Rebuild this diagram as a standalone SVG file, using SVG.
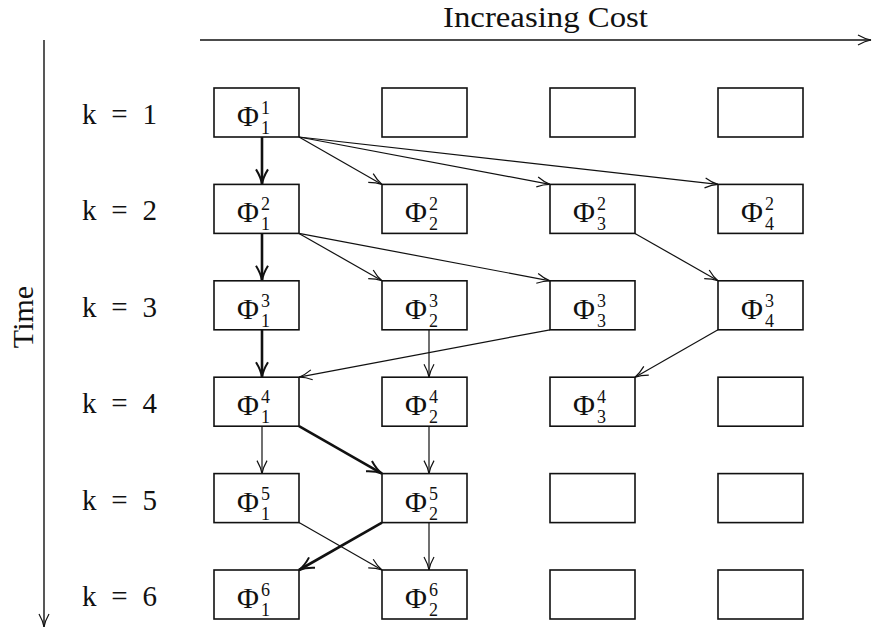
<svg xmlns="http://www.w3.org/2000/svg" width="873" height="630" viewBox="0 0 873 630">
<style>
  .box { fill: #fff; stroke: #111; stroke-width: 1.6; }
  .lbl { font-family: "Liberation Serif", "DejaVu Serif", serif; fill: #111; }
  .phi { font-size: 30px; }
  .idx { font-size: 18px; }
  .k { font-size: 29px; }
  .thin { fill: none; stroke: #111; stroke-width: 1.2; marker-end: url(#h1); }
  .bold { fill: none; stroke: #111; stroke-width: 2.6; marker-end: url(#h2); }
  .axis { fill: none; stroke: #111; stroke-width: 1.4; marker-end: url(#h1); }
</style>
<defs>
  <marker id="h1" viewBox="0 0 15 12" refX="14" refY="6" markerWidth="15" markerHeight="12" markerUnits="userSpaceOnUse" orient="auto">
    <path d="M1,1 Q8,5 14,6 Q8,7 1,11" fill="none" stroke="#111" stroke-width="1.2"/>
  </marker>
  <marker id="h2" viewBox="0 0 17 14" refX="16" refY="7" markerWidth="17" markerHeight="14" markerUnits="userSpaceOnUse" orient="auto">
    <path d="M1,1 Q9,6 16,7 Q9,8 1,13" fill="none" stroke="#111" stroke-width="2"/>
  </marker>
</defs>

<g id="axes">
  <line class="axis" x1="200" y1="40" x2="871" y2="40"/>
  <text class="lbl" x="443" y="27" font-size="30" textLength="205" lengthAdjust="spacingAndGlyphs">Increasing Cost</text>
  <line class="axis" x1="44" y1="40" x2="44" y2="627"/>
  <text class="lbl" transform="translate(33,317) rotate(-90)" text-anchor="middle" font-size="30">Time</text>
</g>

<g id="row-labels">
  <text class="lbl k" x="82" y="124" textLength="75" lengthAdjust="spacing" xml:space="preserve">k = 1</text>
  <text class="lbl k" x="82" y="220.4" textLength="75" lengthAdjust="spacing" xml:space="preserve">k = 2</text>
  <text class="lbl k" x="82" y="316.8" textLength="75" lengthAdjust="spacing" xml:space="preserve">k = 3</text>
  <text class="lbl k" x="82" y="413.2" textLength="75" lengthAdjust="spacing" xml:space="preserve">k = 4</text>
  <text class="lbl k" x="82" y="509.6" textLength="75" lengthAdjust="spacing" xml:space="preserve">k = 5</text>
  <text class="lbl k" x="82" y="606" textLength="75" lengthAdjust="spacing" xml:space="preserve">k = 6</text>
</g>

<g id="connectors">
  <line class="bold" x1="262" y1="137" x2="262" y2="184.4"/>
  <line class="thin" x1="299" y1="137" x2="382" y2="184.4"/>
  <line class="thin" x1="299" y1="137" x2="550" y2="184.4"/>
  <line class="thin" x1="299" y1="137" x2="718" y2="184.4"/>
  <line class="bold" x1="262" y1="233.4" x2="262" y2="280.8"/>
  <line class="thin" x1="299" y1="233.4" x2="382" y2="280.8"/>
  <line class="thin" x1="299" y1="233.4" x2="550" y2="280.8"/>
  <line class="thin" x1="635" y1="233.4" x2="718" y2="280.8"/>
  <line class="bold" x1="262" y1="329.8" x2="262" y2="377.2"/>
  <line class="thin" x1="550" y1="329.8" x2="299" y2="377.2"/>
  <line class="thin" x1="429" y1="329.8" x2="429" y2="377.2"/>
  <line class="thin" x1="718" y1="329.8" x2="635" y2="377.2"/>
  <line class="thin" x1="262" y1="426.2" x2="262" y2="473.6"/>
  <line class="bold" x1="299" y1="426.2" x2="382" y2="473.6"/>
  <line class="thin" x1="429" y1="426.2" x2="429" y2="473.6"/>
  <line class="thin" x1="299" y1="522.6" x2="382" y2="570"/>
  <line class="bold" x1="382" y1="522.6" x2="299" y2="570"/>
  <line class="thin" x1="429" y1="522.6" x2="429" y2="570"/>
</g>

<!-- Row 1 -->
<g id="n1-1"><rect class="box" x="214" y="88" width="85" height="49"/>
  <text class="lbl phi" x="237" y="126">Φ</text><text class="lbl idx" x="261" y="114">1</text><text class="lbl idx" x="261" y="134">1</text></g>
<g id="n1-2"><rect class="box" x="382" y="88" width="85" height="49"/></g>
<g id="n1-3"><rect class="box" x="550" y="88" width="85" height="49"/></g>
<g id="n1-4"><rect class="box" x="718" y="88" width="85" height="49"/></g>

<!-- Row 2 -->
<g id="n2-1"><rect class="box" x="214" y="184.4" width="85" height="49"/>
  <text class="lbl phi" x="237" y="222.4">Φ</text><text class="lbl idx" x="261" y="210.4">2</text><text class="lbl idx" x="261" y="230.4">1</text></g>
<g id="n2-2"><rect class="box" x="382" y="184.4" width="85" height="49"/>
  <text class="lbl phi" x="405" y="222.4">Φ</text><text class="lbl idx" x="429" y="210.4">2</text><text class="lbl idx" x="429" y="230.4">2</text></g>
<g id="n2-3"><rect class="box" x="550" y="184.4" width="85" height="49"/>
  <text class="lbl phi" x="573" y="222.4">Φ</text><text class="lbl idx" x="597" y="210.4">2</text><text class="lbl idx" x="597" y="230.4">3</text></g>
<g id="n2-4"><rect class="box" x="718" y="184.4" width="85" height="49"/>
  <text class="lbl phi" x="741" y="222.4">Φ</text><text class="lbl idx" x="765" y="210.4">2</text><text class="lbl idx" x="765" y="230.4">4</text></g>

<!-- Row 3 -->
<g id="n3-1"><rect class="box" x="214" y="280.8" width="85" height="49"/>
  <text class="lbl phi" x="237" y="318.8">Φ</text><text class="lbl idx" x="261" y="306.8">3</text><text class="lbl idx" x="261" y="326.8">1</text></g>
<g id="n3-2"><rect class="box" x="382" y="280.8" width="85" height="49"/>
  <text class="lbl phi" x="405" y="318.8">Φ</text><text class="lbl idx" x="429" y="306.8">3</text><text class="lbl idx" x="429" y="326.8">2</text></g>
<g id="n3-3"><rect class="box" x="550" y="280.8" width="85" height="49"/>
  <text class="lbl phi" x="573" y="318.8">Φ</text><text class="lbl idx" x="597" y="306.8">3</text><text class="lbl idx" x="597" y="326.8">3</text></g>
<g id="n3-4"><rect class="box" x="718" y="280.8" width="85" height="49"/>
  <text class="lbl phi" x="741" y="318.8">Φ</text><text class="lbl idx" x="765" y="306.8">3</text><text class="lbl idx" x="765" y="326.8">4</text></g>

<!-- Row 4 -->
<g id="n4-1"><rect class="box" x="214" y="377.2" width="85" height="49"/>
  <text class="lbl phi" x="237" y="415.2">Φ</text><text class="lbl idx" x="261" y="403.2">4</text><text class="lbl idx" x="261" y="423.2">1</text></g>
<g id="n4-2"><rect class="box" x="382" y="377.2" width="85" height="49"/>
  <text class="lbl phi" x="405" y="415.2">Φ</text><text class="lbl idx" x="429" y="403.2">4</text><text class="lbl idx" x="429" y="423.2">2</text></g>
<g id="n4-3"><rect class="box" x="550" y="377.2" width="85" height="49"/>
  <text class="lbl phi" x="573" y="415.2">Φ</text><text class="lbl idx" x="597" y="403.2">4</text><text class="lbl idx" x="597" y="423.2">3</text></g>
<g id="n4-4"><rect class="box" x="718" y="377.2" width="85" height="49"/></g>

<!-- Row 5 -->
<g id="n5-1"><rect class="box" x="214" y="473.6" width="85" height="49"/>
  <text class="lbl phi" x="237" y="511.6">Φ</text><text class="lbl idx" x="261" y="499.6">5</text><text class="lbl idx" x="261" y="519.6">1</text></g>
<g id="n5-2"><rect class="box" x="382" y="473.6" width="85" height="49"/>
  <text class="lbl phi" x="405" y="511.6">Φ</text><text class="lbl idx" x="429" y="499.6">5</text><text class="lbl idx" x="429" y="519.6">2</text></g>
<g id="n5-3"><rect class="box" x="550" y="473.6" width="85" height="49"/></g>
<g id="n5-4"><rect class="box" x="718" y="473.6" width="85" height="49"/></g>

<!-- Row 6 -->
<g id="n6-1"><rect class="box" x="214" y="570" width="85" height="49"/>
  <text class="lbl phi" x="237" y="608">Φ</text><text class="lbl idx" x="261" y="596">6</text><text class="lbl idx" x="261" y="616">1</text></g>
<g id="n6-2"><rect class="box" x="382" y="570" width="85" height="49"/>
  <text class="lbl phi" x="405" y="608">Φ</text><text class="lbl idx" x="429" y="596">6</text><text class="lbl idx" x="429" y="616">2</text></g>
<g id="n6-3"><rect class="box" x="550" y="570" width="85" height="49"/></g>
<g id="n6-4"><rect class="box" x="718" y="570" width="85" height="49"/></g>
</svg>
